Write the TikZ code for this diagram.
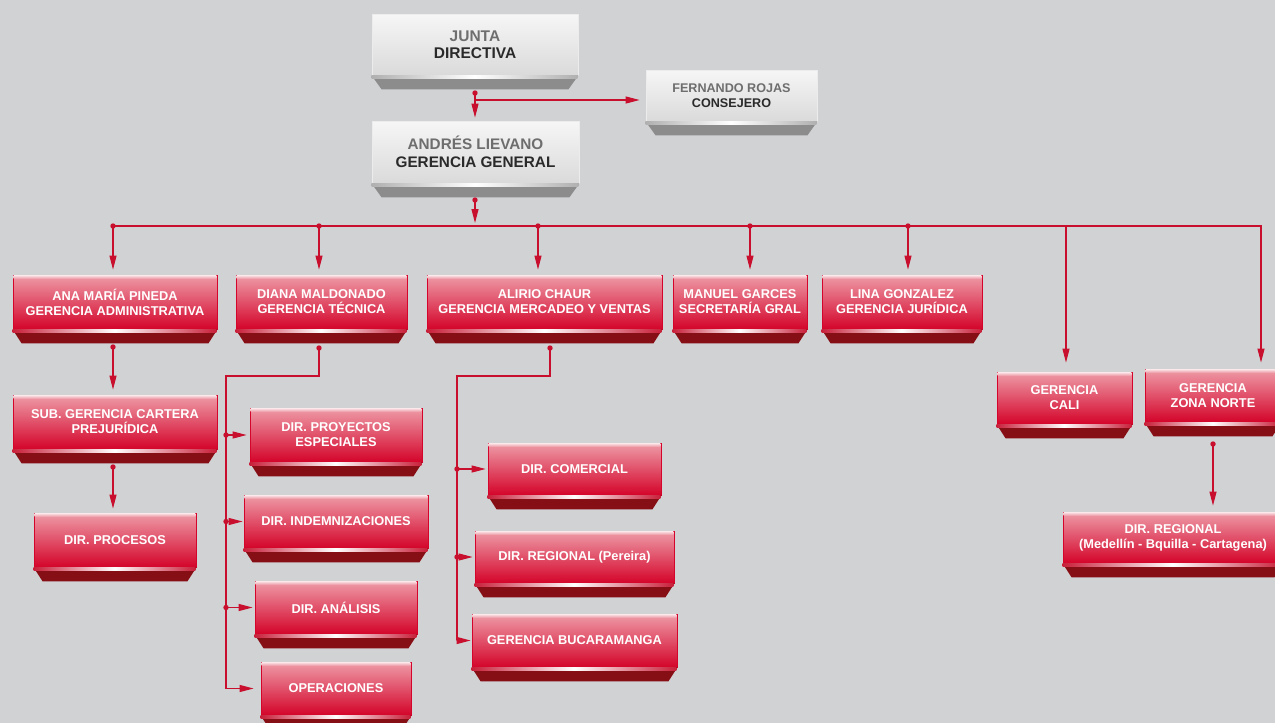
\documentclass[tikz,border=0pt]{standalone}
\usepackage{fontspec}
\setmainfont{Liberation Sans}
\usetikzlibrary{arrows.meta,calc}
\definecolor{bg}{HTML}{D1D2D4}
\definecolor{lc}{HTML}{C8102E}
\definecolor{rtop}{HTML}{EE9CA8}
\definecolor{rbot}{HTML}{D4042A}
\definecolor{rbase}{HTML}{860E15}
\definecolor{rstrip}{HTML}{C8203A}
\definecolor{gtop}{HTML}{F6F6F6}
\definecolor{gbot}{HTML}{DADADA}
\definecolor{gbase}{HTML}{8C8C8C}
\definecolor{gstrip}{HTML}{B0B0B0}
\definecolor{gone}{HTML}{6E6E6E}
\definecolor{gtwo}{HTML}{2A2A2A}
\tikzset{
  redbox/.style={inner sep=0pt, align=center, text=white,
    font=\bfseries\fontsize{12.8}{15}\selectfont,
    draw=rbot, line width=0.8pt, top color=rtop, bottom color=rbot},
  graybox/.style={inner sep=0pt, align=center,
    draw=white!85!gray, line width=0.8pt, top color=gtop, bottom color=gbot},
  conn/.style={draw=lc, line width=1.1pt},
  arr/.style={conn, -{Triangle[length=14pt,width=7pt]}},
  dotc/.style={fill=lc}
}
\newcommand\rbox[6]{%
  \node[redbox, minimum width={#4-#2}, minimum height={#5-#3}] (#1) at ({(#2+#4)/2},{(#3+#5)/2}) {#6};
  \shade[top color=white!65!rtop, bottom color=rtop] ($(#1.north west)+(1,1)$) rectangle ($(#1.north east)+(-1,4)$);
  \fill[rbase] (#1.south west) -- (#1.south east) -- ++(-9,14) -- ($(#1.south west)+(9,14)$) -- cycle;
  \shade[left color=rstrip, right color=rstrip, middle color=white] (#1.south west) rectangle ($(#1.south east)+(-1,3)$);
}
\newcommand\gbox[8]{%
  \node[graybox, font=\bfseries\fontsize{#7}{#8}\selectfont, minimum width={#4-#2}, minimum height={#5-#3}] (#1) at ({(#2+#4)/2},{(#3+#5)/2}) {#6};
  \fill[gbase] (#1.south west) -- (#1.south east) -- ++(-10,14) -- ($(#1.south west)+(10,14)$) -- cycle;
  \shade[left color=gstrip, right color=gstrip, middle color=white] (#1.south west) rectangle ($(#1.south east)+(-1,3)$);
}
\newcommand\dotat[1]{\fill[dotc] (#1) circle (2.7pt);}
\begin{document}
\begin{tikzpicture}[x=1pt,y=-1pt]
\fill[bg] (0,0) rectangle (1275,723);
\useasboundingbox (0,0) rectangle (1275,723);

% gray boxes
\gbox{jd}{372}{14}{578}{75}{{\color{gone}JUNTA}\\{\color{gtwo}DIRECTIVA}}{15.5}{17.5}
\gbox{fr}{646}{70}{817}{121}{{\color{gone}FERNANDO ROJAS}\\{\color{gtwo}CONSEJERO}}{12.6}{14.5}
\gbox{gg}{372}{121}{579}{183}{{\color{gone}ANDRÉS LIEVANO}\\{\color{gtwo}GERENCIA GENERAL}}{15.3}{17.5}

% red boxes row 1
\rbox{ana}{13}{275}{217}{329}{ANA MARÍA PINEDA\\GERENCIA ADMINISTRATIVA}
\rbox{diana}{236}{275}{407}{329}{DIANA MALDONADO\\GERENCIA TÉCNICA}
\rbox{alirio}{427}{275}{662}{329}{ALIRIO CHAUR\\GERENCIA MERCADEO Y VENTAS}
\rbox{manuel}{673}{275}{807}{329}{MANUEL GARCES\\SECRETARÍA GRAL}
\rbox{lina}{822}{275}{982}{329}{LINA GONZALEZ\\GERENCIA JURÍDICA}

% lower boxes
\rbox{sub}{13}{395}{217}{449}{SUB. GERENCIA CARTERA\\PREJURÍDICA}
\rbox{cali}{997}{372}{1132}{424}{GERENCIA\\CALI}
\rbox{zn}{1145}{369}{1281}{422}{GERENCIA\\ZONA NORTE}
\rbox{proy}{250}{408}{422}{462}{DIR. PROYECTOS\\ESPECIALES}
\rbox{com}{488}{443}{661}{495}{DIR. COMERCIAL}
\rbox{indem}{244}{495}{428}{548}{DIR. INDEMNIZACIONES}
\rbox{proc}{34}{513}{196}{567}{DIR. PROCESOS}
\rbox{med}{1063}{512}{1283}{563}{DIR. REGIONAL\\(Medellín - Bquilla - Cartagena)}
\rbox{per}{475}{531}{674}{583}{DIR. REGIONAL (Pereira)}
\rbox{anal}{255}{581}{417}{634}{DIR. ANÁLISIS}
\rbox{buc}{472}{614}{677}{667}{GERENCIA BUCARAMANGA}
\rbox{oper}{261}{662}{411}{715}{OPERACIONES}

% coordinates
\coordinate (jdot) at (475,93);
\coordinate (jbr) at (475,100);
\coordinate (gdot) at (475,200);
\coordinate (b1) at (113,226);
\coordinate (b2) at (319,226);
\coordinate (b3) at (538,226);
\coordinate (b4) at (750,226);
\coordinate (b5) at (908,226);
\coordinate (b6) at (1066,226);
\coordinate (b7) at (1261,226);
\coordinate (adot) at (113,347);
\coordinate (sdot) at (113,467);
\coordinate (ddot) at (319,348);
\coordinate (dturn) at (226,376);
\coordinate (cdot) at (550,348);
\coordinate (cturn) at (457,376);
\coordinate (zdot) at (1213,444);

% top connectors
\draw[arr, shorten >=3pt] (jdot) -- (jdot |- gg.north);
\draw[arr, shorten >=6pt] (jbr) -- (jbr -| fr.west);
\dotat{jdot}
\draw[arr, shorten >=3pt] (gdot) -- (gdot |- b1);
\dotat{gdot}

% bus
\draw[arr, shorten >=6pt] (b1) -- (b7) -- (b7 |- zn.north);
\draw[arr, shorten >=5pt] (b1) -- (b1 |- ana.north);
\draw[arr, shorten >=5pt] (b2) -- (b2 |- diana.north);
\draw[arr, shorten >=5pt] (b3) -- (b3 |- alirio.north);
\draw[arr, shorten >=5pt] (b4) -- (b4 |- manuel.north);
\draw[arr, shorten >=5pt] (b5) -- (b5 |- lina.north);
\draw[arr, shorten >=9pt] (b6) -- (b6 |- cali.north);
\foreach \c in {b1,b2,b3,b4,b5} {\dotat{\c}}

% administrativa
\draw[arr, shorten >=5pt] (adot) -- (adot |- sub.north);
\dotat{adot}
\draw[arr, shorten >=4pt] (sdot) -- (sdot |- proc.north);
\dotat{sdot}

% tecnica
\draw[arr, shorten >=7pt] (ddot) |- (dturn) |- (oper.west);
\dotat{ddot}
\draw[arr, shorten >=3pt] (dturn |- proy.west) -- (proy.west);
\draw[arr, shorten >=1pt] (dturn |- indem.west) -- (indem.west);
\draw[arr, shorten >=2pt] (dturn |- anal.west) -- (anal.west);
\dotat{dturn |- proy.west}
\dotat{dturn |- indem.west}
\dotat{dturn |- anal.west}

% mercadeo
\draw[arr, shorten >=1pt] (cdot) |- (cturn) |- (buc.west);
\dotat{cdot}
\draw[arr, shorten >=2pt] (cturn |- com.west) -- (com.west);
\draw[arr, shorten >=2pt] (cturn |- per.west) -- (per.west);
\dotat{cturn |- com.west}
\dotat{cturn |- per.west}

% zona norte
\draw[arr, shorten >=6pt] (zdot) -- (zdot |- med.north);
\dotat{zdot}
\end{tikzpicture}
\end{document}
